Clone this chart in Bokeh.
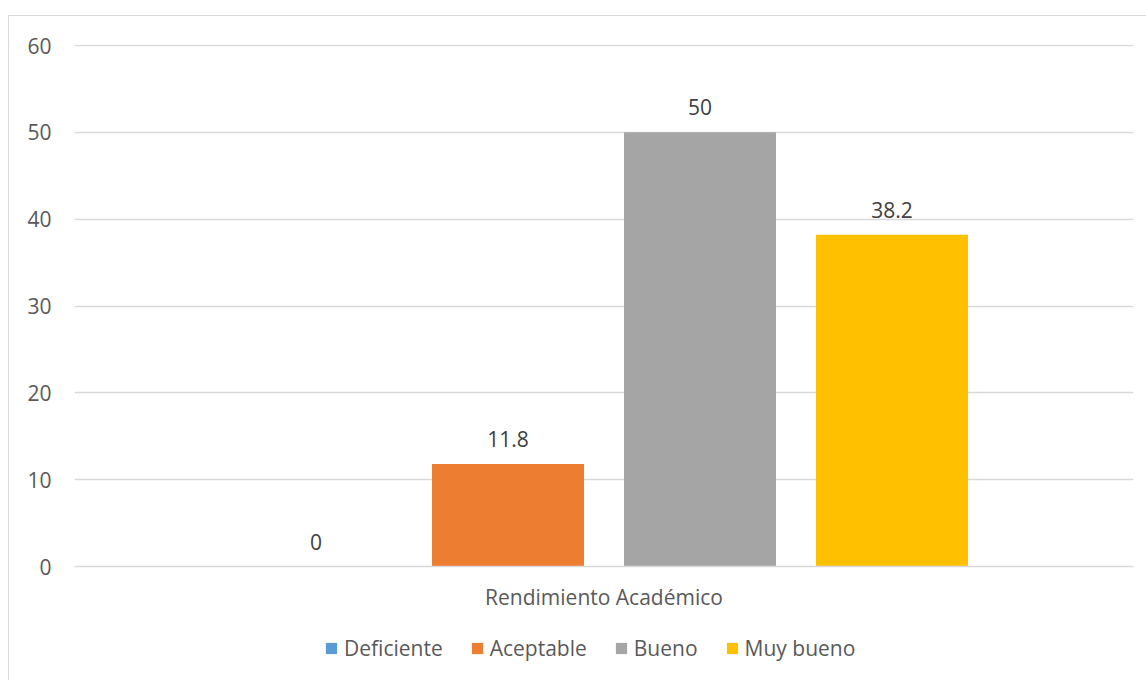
from bokeh.plotting import figure
from bokeh.layouts import column
from bokeh.models import ColumnDataSource, FactorRange, Range1d, Legend, LegendItem, FixedTicker
from bokeh.transform import dodge
from bokeh.core.properties import value
from bokeh.embed import file_html
from bokeh.resources import INLINE

# Rendimiento académico: porcentaje por nivel
group = "Rendimiento Académico"
levels = ["Deficiente", "Aceptable", "Bueno", "Muy bueno"]
percent = [0, 11.8, 50, 38.2]
colors = ["#5B9BD5", "#ED7D31", "#A5A5A5", "#FFC000"]
y_ticks = [0, 10, 20, 30, 40, 50, 60]

FONT = "Open Sans"
FS = "21px"
TEXT = "#595959"
GRID = "#D9D9D9"
EDGE = "1px solid #D9D9D9"

p = figure(
    x_range=FactorRange(group, range_padding=0),
    y_range=Range1d(0, 60.12),
    width=1138, height=605,
    min_border_left=65, min_border_right=14,
    min_border_top=28, min_border_bottom=55,
    output_backend="svg", toolbar_location=None,
    background_fill_color="white", border_fill_color="white",
)
p.styles = {"border-left": EDGE, "border-top": EDGE}
p.outline_line_color = None

# clustered columns, one per level, dodged around the single category
n = len(levels)
step = 0.1813
bar_w = 0.1435
for i, (val, col) in enumerate(zip(percent, colors)):
    off = (i - (n - 1) / 2) * step
    src = ColumnDataSource(dict(cat=[group], val=[val], lab=[f"{val:g}"]))
    p.vbar(x=dodge("cat", off, range=p.x_range), top="val", width=bar_w,
           source=src, fill_color=col, line_color=None)
    p.text(x=dodge("cat", off, range=p.x_range), y="val", text="lab", source=src,
           text_align="center", text_baseline="middle", y_offset=-25,
           text_font=value(FONT), text_font_size=FS, text_color="#404040")

# value axis
p.yaxis.ticker = FixedTicker(ticks=y_ticks)
p.yaxis.axis_line_color = None
p.yaxis.major_tick_line_color = None
p.yaxis.minor_tick_line_color = None
p.yaxis.major_tick_out = 0
p.yaxis.major_label_standoff = 23
p.yaxis.major_label_text_font = FONT
p.yaxis.major_label_text_font_size = FS
p.yaxis.major_label_text_color = TEXT

# category axis
p.xaxis.axis_line_color = GRID
p.xaxis.axis_line_width = 1.5
p.xaxis.major_tick_line_color = None
p.xaxis.major_tick_out = 0
p.xaxis.major_label_standoff = 16
p.xaxis.major_label_text_font = FONT
p.xaxis.major_label_text_font_size = FS
p.xaxis.major_label_text_color = TEXT

p.xgrid.grid_line_color = None
p.ygrid.grid_line_color = GRID
p.ygrid.grid_line_width = 1.5

# legend strip under the chart
q = figure(
    width=1138, height=60,
    x_range=Range1d(0, 1), y_range=Range1d(0, 1),
    x_axis_location=None, y_axis_location=None,
    min_border=0, output_backend="svg", toolbar_location=None,
    background_fill_color="white", border_fill_color="white",
)
q.styles = {"border-left": EDGE}
q.outline_line_color = None
q.grid.visible = False
items = []
for lvl, col in zip(levels, colors):
    # swatch renderer kept outside the strip's visible range
    r = q.vbar(x=[-5], top=[0], width=0.1, fill_color=col, line_color=None)
    items.append(LegendItem(label=lvl, renderers=[r]))

legend = Legend(items=items, orientation="horizontal", location=(250, 18),
                glyph_width=14, glyph_height=14, label_standoff=6, spacing=27,
                label_text_font=FONT, label_text_font_size=FS,
                label_text_color=TEXT, border_line_color=None,
                background_fill_alpha=0, padding=0, margin=0)
q.add_layout(legend)

page = column(p, q, spacing=0, margin=(15, 0, 0, 8))
open("out.html", "w").write(file_html(page, INLINE))
